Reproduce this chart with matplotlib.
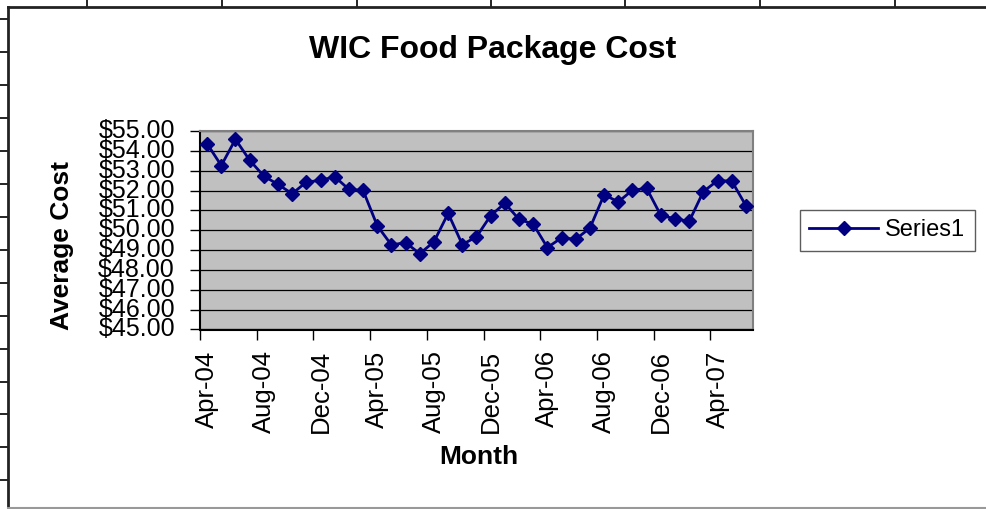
import matplotlib
matplotlib.use("Agg")
import matplotlib.pyplot as plt
from matplotlib.lines import Line2D

plt.rcParams['font.family'] = ['Liberation Sans', 'DejaVu Sans']

# monthly average cost, Apr-04 .. Jun-07
months = ['Apr-04', 'May-04', 'Jun-04', 'Jul-04', 'Aug-04', 'Sep-04', 'Oct-04', 'Nov-04',
          'Dec-04', 'Jan-05', 'Feb-05', 'Mar-05', 'Apr-05', 'May-05', 'Jun-05', 'Jul-05',
          'Aug-05', 'Sep-05', 'Oct-05', 'Nov-05', 'Dec-05', 'Jan-06', 'Feb-06', 'Mar-06',
          'Apr-06', 'May-06', 'Jun-06', 'Jul-06', 'Aug-06', 'Sep-06', 'Oct-06', 'Nov-06',
          'Dec-06', 'Jan-07', 'Feb-07', 'Mar-07', 'Apr-07', 'May-07', 'Jun-07']
cost = [54.36, 53.26, 54.58, 53.53, 52.73, 52.31, 51.84, 52.43,
        52.51, 52.70, 52.06, 52.01, 50.23, 49.26, 49.38, 48.82,
        49.42, 50.85, 49.28, 49.67, 50.74, 51.36, 50.55, 50.31,
        49.13, 49.62, 49.55, 50.11, 51.79, 51.43, 52.02, 52.11,
        50.75, 50.58, 50.45, 51.95, 52.50, 52.48, 51.24]
y_ticks = [45, 46, 47, 48, 49, 50, 51, 52, 53, 54, 55]

W, H = 987, 509
fig = plt.figure(figsize=(W / 100, H / 100), dpi=100)

# spreadsheet cell lines around the embedded chart
for xp in [87, 222, 357, 491, 625, 760, 895]:
    fig.add_artist(Line2D([xp / W, xp / W], [1, 1 - 7 / H], color='black', lw=1.2))
for yp in [19, 52, 85, 118, 151, 184, 217, 250, 283, 316, 349, 382, 414, 447, 480]:
    fig.add_artist(Line2D([0, 8 / W], [1 - yp / H, 1 - yp / H], color='black', lw=1.2))
# chart frame
fig.add_artist(Line2D([8 / W, 1], [1 - 7 / H, 1 - 7 / H], color='#222222', lw=2))
fig.add_artist(Line2D([8 / W, 8 / W], [1 - 7 / H, 1 - 508 / H], color='#222222', lw=2))
fig.add_artist(Line2D([8 / W, 1], [1 - 508 / H, 1 - 508 / H], color='#999999', lw=1.5))

ax = fig.add_axes([200 / W, 1 - 329.5 / H, 553 / W, 198.5 / H])
ax.set_facecolor('#C0C0C0')

x = list(range(len(months)))
ax.plot(x, cost, color='#000080', lw=2, marker='D', ms=7.5,
        markerfacecolor='#000080', markeredgecolor='#000080', label='Series1', zorder=3)

ax.set_xlim(-0.5, len(months) - 0.5)
ax.set_ylim(45, 55)
ax.set_yticks(y_ticks)
ax.set_yticklabels([f'${v:.2f}' for v in y_ticks])
ax.yaxis.grid(True, color='black', lw=0.9)
ax.set_axisbelow(True)

# tick marks between categories every 4 months, labels centered on the months
ax.set_xticks([i - 0.5 for i in range(0, len(months) + 1, 4)])
ax.set_xticklabels([])
ax.set_xticks(x[::4], minor=True)
ax.set_xticklabels(months[::4], minor=True, rotation=90, fontsize=18.5)
ax.tick_params(axis='x', which='minor', length=0, pad=15)
ax.tick_params(axis='x', which='major', length=7, width=1, direction='out')
ax.tick_params(axis='y', length=7, width=1, direction='out', labelsize=18, pad=11)
for lab in ax.get_yticklabels():
    lab.set_verticalalignment('center')

ax.spines['left'].set_color('black')
ax.spines['bottom'].set_color('black')
ax.spines['top'].set_color('#808080')
ax.spines['right'].set_color('#808080')
for s in ax.spines.values():
    s.set_linewidth(1.5)

fig.text(493 / W, 1 - 50 / H, 'WIC Food Package Cost', ha='center', va='center',
         fontsize=23, fontweight='bold')
fig.text(479 / W, 1 - 457 / H, 'Month', ha='center', va='center',
         fontsize=19, fontweight='bold')
fig.text(62 / W, 1 - 245 / H, 'Average Cost', ha='center', va='center',
         rotation=90, fontsize=19, fontweight='bold')

leg = fig.legend(loc='center left', bbox_to_anchor=(800 / W, 1 - 230.5 / H),
                 fontsize=17, frameon=True, fancybox=False, edgecolor='#333333',
                 handlelength=2.9, borderpad=0.4, handletextpad=0.3, borderaxespad=0)
leg.get_frame().set_linewidth(1)

fig.savefig('out.png', dpi=100)
